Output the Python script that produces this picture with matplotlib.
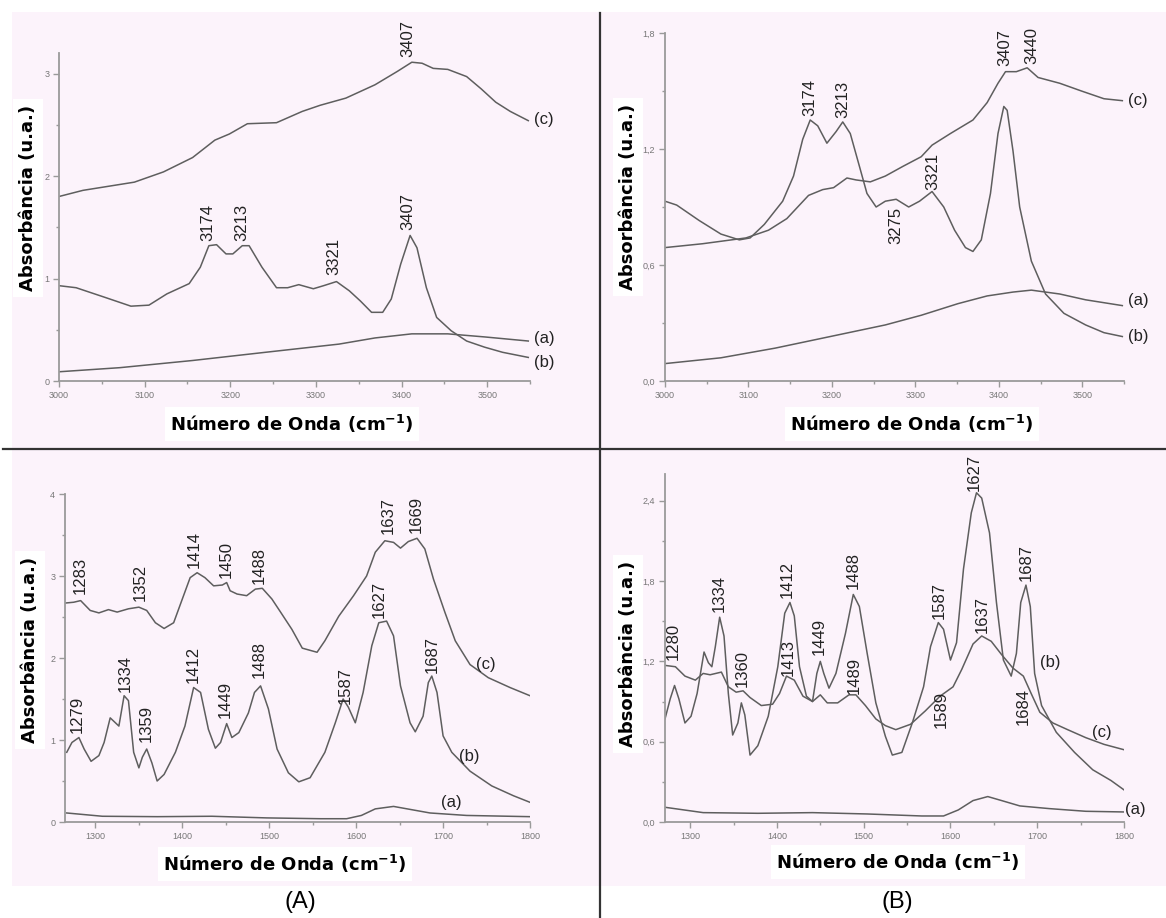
import matplotlib
matplotlib.use('Agg')
import matplotlib.pyplot as plt
from matplotlib.patches import Rectangle
from matplotlib.ticker import MultipleLocator

plt.rcParams['font.family'] = ['Liberation Sans', 'DejaVu Sans']
plt.rcParams['lines.solid_joinstyle'] = 'round'

# ---- top row, 3000-3550 cm-1 ----
# (A) top
tl_c_x = [3000, 3028, 3088, 3122, 3156, 3182, 3199, 3220, 3254, 3284, 3305, 3335, 3369, 3395, 3412, 3424,
          3437, 3454, 3476, 3493, 3510, 3527, 3548]
tl_c_y = [1.80, 1.86, 1.94, 2.04, 2.18, 2.35, 2.41, 2.51, 2.52, 2.63, 2.69, 2.76, 2.89, 3.02, 3.11, 3.10,
          3.05, 3.04, 2.97, 2.85, 2.72, 2.63, 2.54]
tl_b_x = [3000, 3020, 3054, 3084, 3105, 3126, 3152, 3165, 3175, 3184, 3195, 3203, 3214, 3222, 3237, 3254,
          3267, 3280, 3297, 3309, 3324, 3339, 3352, 3365, 3378, 3388, 3399, 3410, 3418, 3429, 3441, 3458,
          3476, 3497, 3518, 3548]
tl_b_y = [0.93, 0.91, 0.815, 0.73, 0.74, 0.85, 0.95, 1.11, 1.32, 1.33, 1.24, 1.24, 1.32, 1.32, 1.11, 0.91,
          0.91, 0.94, 0.90, 0.93, 0.97, 0.88, 0.78, 0.67, 0.67, 0.80, 1.14, 1.42, 1.30, 0.91, 0.62, 0.49,
          0.39, 0.33, 0.28, 0.23]
tl_a_x = [3000, 3071, 3156, 3241, 3327, 3369, 3412, 3454, 3497, 3548]
tl_a_y = [0.09, 0.13, 0.20, 0.28, 0.36, 0.42, 0.46, 0.46, 0.43, 0.39]
tl_peaks = [(3407, 3.16, '3407'), (3174, 1.37, '3174'), (3213, 1.37, '3213'), (3321, 1.03, '3321'),
            (3407, 1.47, '3407')]
tl_tags = [(3555, 2.55, '(c)'), (3555, 0.41, '(a)'), (3555, 0.18, '(b)')]

# (B) top
tr_b_x = [3000, 3014, 3041, 3067, 3089, 3102, 3119, 3141, 3154, 3165, 3174, 3183, 3194, 3205, 3213, 3222,
          3233, 3242, 3253, 3264, 3277, 3292, 3305, 3320, 3334, 3347, 3360, 3369, 3379, 3390, 3399, 3406,
          3410, 3417, 3425, 3439, 3456, 3478, 3504, 3526, 3548]
tr_b_y = [0.93, 0.91, 0.83, 0.76, 0.73, 0.74, 0.81, 0.93, 1.06, 1.25, 1.35, 1.32, 1.23, 1.29, 1.34, 1.28,
          1.11, 0.97, 0.90, 0.93, 0.94, 0.90, 0.93, 0.98, 0.90, 0.78, 0.69, 0.67, 0.73, 0.97, 1.28, 1.42,
          1.40, 1.19, 0.90, 0.62, 0.45, 0.35, 0.29, 0.25, 0.23]
tr_c_x = [3000, 3045, 3097, 3124, 3146, 3159, 3172, 3189, 3202, 3218, 3229, 3246, 3264, 3285, 3307, 3320,
          3342, 3369, 3386, 3399, 3408, 3421, 3434, 3447, 3473, 3499, 3526, 3548]
tr_c_y = [0.69, 0.71, 0.74, 0.78, 0.84, 0.90, 0.96, 0.99, 1.00, 1.05, 1.04, 1.03, 1.06, 1.11, 1.16, 1.22,
          1.28, 1.35, 1.44, 1.54, 1.60, 1.60, 1.62, 1.57, 1.54, 1.50, 1.46, 1.45]
tr_a_x = [3000, 3067, 3132, 3198, 3264, 3307, 3351, 3386, 3417, 3439, 3473, 3504, 3548]
tr_a_y = [0.09, 0.12, 0.17, 0.23, 0.29, 0.34, 0.40, 0.44, 0.46, 0.47, 0.45, 0.42, 0.39]
tr_peaks = [(3174, 1.37, '3174'), (3213, 1.36, '3213'), (3321, 0.99, '3321'), (3407, 1.63, '3407'),
            (3440, 1.64, '3440')]
tr_below = [(3277, 0.90, '3275')]
tr_tags = [(3555, 1.45, '(c)'), (3555, 0.415, '(a)'), (3555, 0.23, '(b)')]

# ---- bottom row, 1265-1800 cm-1 ----
# (A) bottom
bl_c_x = [1265, 1275, 1283, 1294, 1304, 1315, 1325, 1338, 1350, 1359, 1369, 1379, 1390, 1400, 1409, 1417,
          1426, 1436, 1446, 1451, 1455, 1463, 1474, 1484, 1492, 1503, 1513, 1526, 1538, 1555, 1564, 1580,
          1597, 1612, 1622, 1633, 1643, 1651, 1660, 1670, 1679, 1689, 1702, 1714, 1731, 1752, 1777, 1800]
bl_c_y = [2.67, 2.68, 2.70, 2.58, 2.55, 2.59, 2.56, 2.60, 2.62, 2.58, 2.43, 2.36, 2.43, 2.72, 2.98, 3.04,
          2.98, 2.88, 2.89, 2.92, 2.82, 2.78, 2.76, 2.84, 2.85, 2.72, 2.56, 2.35, 2.12, 2.07, 2.21, 2.51,
          2.76, 3.00, 3.29, 3.43, 3.41, 3.34, 3.42, 3.46, 3.33, 2.96, 2.56, 2.21, 1.92, 1.76, 1.64, 1.54]
bl_b_x = [1267, 1273, 1281, 1287, 1295, 1304, 1310, 1317, 1323, 1327, 1333, 1338, 1344, 1350, 1354, 1359,
          1365, 1371, 1379, 1392, 1403, 1413, 1421, 1430, 1438, 1444, 1451, 1457, 1465, 1476, 1483, 1490,
          1499, 1509, 1522, 1534, 1547, 1564, 1576, 1585, 1591, 1599, 1608, 1618, 1626, 1635, 1643, 1651,
          1662, 1668, 1677, 1683, 1687, 1693, 1700, 1710, 1731, 1756, 1781, 1800]
bl_b_y = [0.85, 0.97, 1.03, 0.89, 0.74, 0.81, 0.97, 1.27, 1.21, 1.17, 1.54, 1.48, 0.85, 0.66, 0.79, 0.89,
          0.72, 0.50, 0.58, 0.85, 1.17, 1.64, 1.58, 1.13, 0.90, 0.97, 1.20, 1.03, 1.09, 1.33, 1.58, 1.66,
          1.38, 0.89, 0.60, 0.49, 0.54, 0.85, 1.21, 1.50, 1.40, 1.21, 1.58, 2.15, 2.43, 2.45, 2.27, 1.66,
          1.21, 1.10, 1.29, 1.70, 1.78, 1.58, 1.05, 0.85, 0.62, 0.44, 0.32, 0.24]
bl_a_x = [1267, 1308, 1371, 1434, 1497, 1559, 1589, 1606, 1622, 1643, 1664, 1685, 1727, 1800]
bl_a_y = [0.11, 0.07, 0.065, 0.07, 0.05, 0.04, 0.04, 0.08, 0.16, 0.19, 0.15, 0.11, 0.08, 0.065]
bl_peaks = [(1283, 2.78, '1283'), (1352, 2.70, '1352'), (1414, 3.10, '1414'), (1450, 2.98, '1450'),
            (1488, 2.90, '1488'), (1637, 3.51, '1637'), (1669, 3.53, '1669'), (1279, 1.09, '1279'),
            (1334, 1.58, '1334'), (1359, 0.97, '1359'), (1412, 1.70, '1412'), (1449, 1.27, '1449'),
            (1488, 1.76, '1488'), (1587, 1.44, '1587'), (1627, 2.49, '1627'), (1687, 1.82, '1687')]
bl_tags = [(1738, 1.92, '(c)'), (1718, 0.80, '(b)'), (1698, 0.24, '(a)')]

# (B) bottom
br_b_x = [1271, 1277, 1282, 1287, 1294, 1301, 1308, 1316, 1321, 1325, 1329, 1334, 1339, 1344, 1349, 1355,
          1359, 1363, 1369, 1378, 1390, 1401, 1409, 1415, 1420, 1426, 1434, 1441, 1446, 1450, 1454, 1460,
          1468, 1479, 1488, 1495, 1504, 1514, 1525, 1533, 1544, 1556, 1569, 1577, 1586, 1592, 1600, 1607,
          1615, 1624, 1630, 1636, 1645, 1653, 1661, 1670, 1676, 1681, 1687, 1692, 1697, 1705, 1722, 1743,
          1764, 1785, 1800]
br_b_y = [0.77, 0.92, 1.02, 0.92, 0.74, 0.79, 0.96, 1.27, 1.19, 1.16, 1.31, 1.53, 1.39, 0.96, 0.65, 0.74,
          0.89, 0.80, 0.50, 0.57, 0.79, 1.16, 1.56, 1.64, 1.54, 1.16, 0.94, 0.90, 1.11, 1.20, 1.11, 1.00,
          1.11, 1.41, 1.70, 1.61, 1.26, 0.89, 0.64, 0.50, 0.52, 0.74, 1.01, 1.31, 1.49, 1.44, 1.21, 1.34,
          1.89, 2.31, 2.46, 2.42, 2.16, 1.64, 1.21, 1.09, 1.26, 1.64, 1.77, 1.61, 1.11, 0.87, 0.67, 0.52,
          0.39, 0.31, 0.24]
br_c_x = [1271, 1283, 1294, 1306, 1315, 1323, 1336, 1344, 1353, 1361, 1369, 1382, 1395, 1403, 1411, 1420,
          1430, 1441, 1450, 1458, 1470, 1483, 1491, 1502, 1514, 1525, 1537, 1554, 1571, 1588, 1603, 1613,
          1626, 1636, 1647, 1659, 1672, 1684, 1693, 1703, 1718, 1735, 1756, 1777, 1800]
br_c_y = [1.17, 1.16, 1.09, 1.06, 1.11, 1.10, 1.12, 1.01, 0.97, 0.98, 0.93, 0.87, 0.88, 0.96, 1.09, 1.06,
          0.94, 0.90, 0.95, 0.89, 0.89, 0.95, 0.95, 0.87, 0.77, 0.72, 0.69, 0.73, 0.83, 0.94, 1.01, 1.14,
          1.33, 1.39, 1.35, 1.25, 1.15, 1.09, 0.96, 0.82, 0.74, 0.69, 0.63, 0.58, 0.54]
br_a_x = [1271, 1315, 1378, 1441, 1504, 1567, 1592, 1609, 1626, 1643, 1659, 1680, 1714, 1756, 1800]
br_a_y = [0.11, 0.07, 0.065, 0.07, 0.06, 0.045, 0.045, 0.09, 0.16, 0.19, 0.16, 0.12, 0.10, 0.08, 0.075]
br_peaks = [(1627, 2.47, '1627'), (1280, 1.21, '1280'), (1334, 1.57, '1334'), (1360, 1.01, '1360'),
            (1412, 1.67, '1412'), (1413, 1.09, '1413'), (1449, 1.25, '1449'), (1488, 1.74, '1488'),
            (1489, 0.96, '1489'), (1587, 1.52, '1587'), (1637, 1.41, '1637'), (1687, 1.80, '1687')]
br_below = [(1589, 0.98, '1589'), (1684, 1.00, '1684')]
br_tags = [(1703, 1.19, '(b)'), (1763, 0.67, '(c)'), (1801, 0.09, '(a)')]

top_xticks = [3000, 3100, 3200, 3300, 3400, 3500]
bot_xticks = [1300, 1400, 1500, 1600, 1700, 1800]
tl_yticks, tl_ylabels = [0, 1, 2, 3], ['0', '1', '2', '3']
tr_yticks, tr_ylabels = [0, 0.6, 1.2, 1.8], ['0,0', '0,6', '1,2', '1,8']
bl_yticks, bl_ylabels = [0, 1, 2, 3, 4], ['0', '1', '2', '3', '4']
br_yticks, br_ylabels = [0, 0.6, 1.2, 1.8, 2.4], ['0,0', '0,6', '1,2', '1,8', '2,4']

W, H = 1166, 918
fig = plt.figure(figsize=(W / 100, H / 100), dpi=100, facecolor='white')
pink = '#fcf3fb'
fig.patches.append(Rectangle((12 / W, 32 / H), 1, 874 / H, transform=fig.transFigure,
                             facecolor=pink, edgecolor='none', zorder=-10))

line_col = '#5e5e5e'
axis_col = '#9a9a9a'
ylab = 'Absorbância (u.a.)'
xlab = 'Número de Onda (cm$^{\\mathbf{-1}}$)'


def px_axes(left, right, top, bottom):
    # axes placed by pixel edges of the reference image
    return fig.add_axes([left / W, 1 - bottom / H, (right - left) / W, (bottom - top) / H])


def style(ax, xlim, ylim, xticks, yticks, ylabels, xminor, yminor):
    ax.set_facecolor('none')
    ax.set_xlim(xlim)
    ax.set_ylim(ylim)
    ax.set_xticks(xticks)
    ax.set_xticklabels([str(t) for t in xticks])
    ax.set_yticks(yticks)
    ax.set_yticklabels(ylabels)
    ax.xaxis.set_minor_locator(MultipleLocator(xminor))
    ax.yaxis.set_minor_locator(MultipleLocator(yminor))
    for s in ['top', 'right']:
        ax.spines[s].set_visible(False)
    for s in ['left', 'bottom']:
        ax.spines[s].set_color(axis_col)
        ax.spines[s].set_linewidth(1.3)
    ax.tick_params(which='major', direction='out', length=4, width=1, color=axis_col,
                   labelsize=6.5, labelcolor='#777777', pad=3)
    ax.tick_params(which='minor', direction='out', length=2.5, width=1, color=axis_col)


def peaks(ax, items, va='bottom'):
    for x, y, s in items:
        ax.text(x, y, s, rotation=90, ha='center', va=va, fontsize=12, color='#222222', clip_on=False)


def tags(ax, items):
    for x, y, s in items:
        ax.text(x, y, s, ha='left', va='center', fontsize=12, color='#222222', clip_on=False)


def labels(xl_x, xl_y, yl_x, yl_y):
    kw = dict(fontsize=13, fontweight='bold', family='DejaVu Sans', color='black', zorder=-1,
              bbox=dict(facecolor='white', edgecolor='none', pad=4))
    fig.text(xl_x / W, 1 - xl_y / H, xlab, ha='center', va='center', **kw)
    fig.text(yl_x / W, 1 - yl_y / H, ylab, ha='center', va='center', rotation=90, **kw)


# top left
ax1 = px_axes(59, 530, 53, 381)
style(ax1, (3000, 3550), (0, 3.2), top_xticks, tl_yticks, tl_ylabels, 50, 0.5)
ax1.plot(tl_c_x, tl_c_y, color=line_col, lw=1.1)
ax1.plot(tl_b_x, tl_b_y, color=line_col, lw=1.1)
ax1.plot(tl_a_x, tl_a_y, color=line_col, lw=1.1)
peaks(ax1, tl_peaks)
tags(ax1, tl_tags)
labels(292, 424, 28, 198)

# top right
ax2 = px_axes(665, 1124, 33, 381)
style(ax2, (3000, 3550), (0, 1.8), top_xticks, tr_yticks, tr_ylabels, 50, 0.3)
ax2.plot(tr_c_x, tr_c_y, color=line_col, lw=1.1)
ax2.plot(tr_b_x, tr_b_y, color=line_col, lw=1.1)
ax2.plot(tr_a_x, tr_a_y, color=line_col, lw=1.1)
peaks(ax2, tr_peaks)
peaks(ax2, tr_below, va='top')
tags(ax2, tr_tags)
labels(912, 424, 628, 197)

# bottom left
ax3 = px_axes(65, 530, 494, 822)
style(ax3, (1265, 1800), (0, 4), bot_xticks, bl_yticks, bl_ylabels, 50, 0.5)
ax3.plot(bl_c_x, bl_c_y, color=line_col, lw=1.1)
ax3.plot(bl_b_x, bl_b_y, color=line_col, lw=1.1)
ax3.plot(bl_a_x, bl_a_y, color=line_col, lw=1.1)
peaks(ax3, bl_peaks)
tags(ax3, bl_tags)
labels(285, 864, 30, 650)

# bottom right
ax4 = px_axes(665, 1124, 474, 822)
style(ax4, (1271, 1800), (0, 2.6), bot_xticks, br_yticks, br_ylabels, 50, 0.3)
ax4.plot(br_c_x, br_c_y, color=line_col, lw=1.1)
ax4.plot(br_b_x, br_b_y, color=line_col, lw=1.1)
ax4.plot(br_a_x, br_a_y, color=line_col, lw=1.1)
peaks(ax4, br_peaks)
peaks(ax4, br_below, va='top')
tags(ax4, br_tags)
labels(898, 862, 628, 654)

# panel letters and the dividing cross
fig.text(300 / W, 1 - 902 / H, '(A)', ha='center', va='center', fontsize=17)
fig.text(897 / W, 1 - 902 / H, '(B)', ha='center', va='center', fontsize=17)
fig.add_artist(plt.Line2D([3 / W, 1], [1 - 449 / H, 1 - 449 / H], color='#333333', lw=1.6))
fig.add_artist(plt.Line2D([600 / W, 600 / W], [1 - 13 / H, 0], color='#333333', lw=1.6))

fig.savefig('out.png', dpi=100, facecolor='white')
